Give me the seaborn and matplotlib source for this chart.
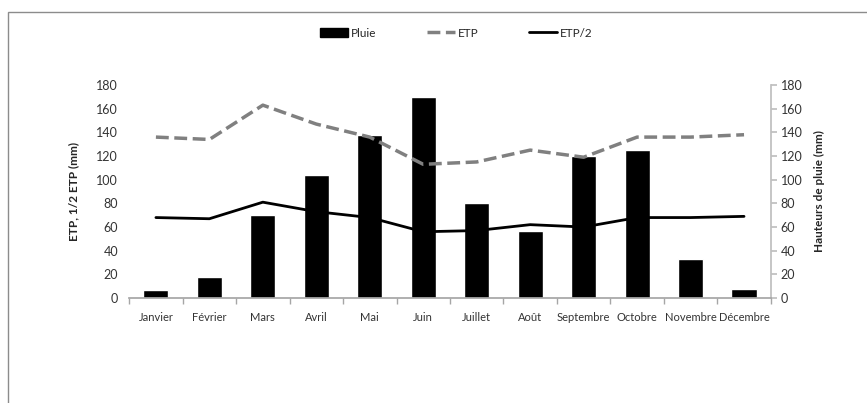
import numpy as np
import matplotlib
matplotlib.use("Agg")
import matplotlib.pyplot as plt
import seaborn as sns
from matplotlib.patches import Rectangle
from matplotlib.lines import Line2D

mois = ["Janvier", "Février", "Mars", "Avril", "Mai", "Juin", "Juillet",
        "Août", "Septembre", "Octobre", "Novembre", "Décembre"]
pluie = [7, 18, 70, 104, 138, 170, 80, 57, 120, 125, 33, 8]
etp = [136, 134, 163, 147, 136, 113, 115, 125, 119, 136, 136, 138]
etp_demi = [68, 67, 81, 73, 68, 56, 57, 62, 60, 68, 68, 69]

sns.set_theme(style="white")
plt.rcParams['font.family'] = ['Lato', 'DejaVu Sans']

fig = plt.figure(figsize=(8.67, 4.03), dpi=100)
ax = fig.add_axes([0.149, 0.2605, 0.74, 0.5285])
ax2 = ax.twinx()

# pluie en barres sur l'axe de droite, ETP en lignes sur l'axe de gauche
sns.barplot(x=mois, y=pluie, color="black", width=0.47, saturation=1, ax=ax2)
sns.pointplot(x=mois, y=etp, color="#808080", linestyle="--", linewidth=2.5,
              marker="", errorbar=None, ax=ax)
sns.pointplot(x=mois, y=etp_demi, color="black", linestyle="-", linewidth=2,
              marker="", errorbar=None, ax=ax)

ax.set_zorder(ax2.get_zorder() + 1)
ax.patch.set_visible(False)

for a in (ax, ax2):
    a.set_ylim(0, 180)
    a.set_yticks(range(0, 181, 20))
    a.set_xlim(-0.5, 11.5)
    for s in a.spines.values():
        s.set_visible(False)

ax.spines['bottom'].set_visible(True)
ax.spines['bottom'].set_color("#A6A6A6")
ax2.spines['right'].set_visible(True)
ax2.spines['right'].set_color("#BFBFBF")

ax.set_xticks(range(12))
ax.set_xticklabels(mois)
ax.set_xticks(np.arange(-0.5, 12, 1), minor=True)
ax.tick_params(axis='x', which='major', length=0, pad=10, labelsize=8, colors="#333333")
ax.tick_params(axis='x', which='minor', length=4, direction='out', color="#A6A6A6", bottom=True)
ax.tick_params(axis='y', length=0, labelsize=9, colors="#333333", pad=8)
ax2.tick_params(axis='y', length=4, direction='out', color="#BFBFBF", labelsize=9,
                colors="#333333", right=True, pad=3)
ax2.set_xlabel("")
ax.set_xlabel("")

ax.set_ylabel("ETP, 1/2 ETP (mm)", fontsize=8.5, fontweight="bold", labelpad=12)
ax2.set_ylabel("Hauteurs de pluie (mm)", fontsize=8.5, fontweight="bold", labelpad=8)

handles = [
    Rectangle((0, 0), 1, 1, color="black"),
    Line2D([], [], color="#808080", linestyle="--", linewidth=2.5),
    Line2D([], [], color="black", linewidth=2),
]
fig.legend(handles, ["Pluie", "ETP", "ETP/2"], loc="center", ncol=3,
           bbox_to_anchor=(0.526, 0.918), frameon=False, fontsize=8.5,
           handlelength=2.4, handletextpad=0.2, columnspacing=4.3)

fig.add_artist(Rectangle((8 / 867, -0.1), 1.2, 1.1 - 12 / 403, transform=fig.transFigure,
                         fill=False, edgecolor="#8C8C8C", linewidth=1, clip_on=False))

fig.savefig("out.png", dpi=100)
